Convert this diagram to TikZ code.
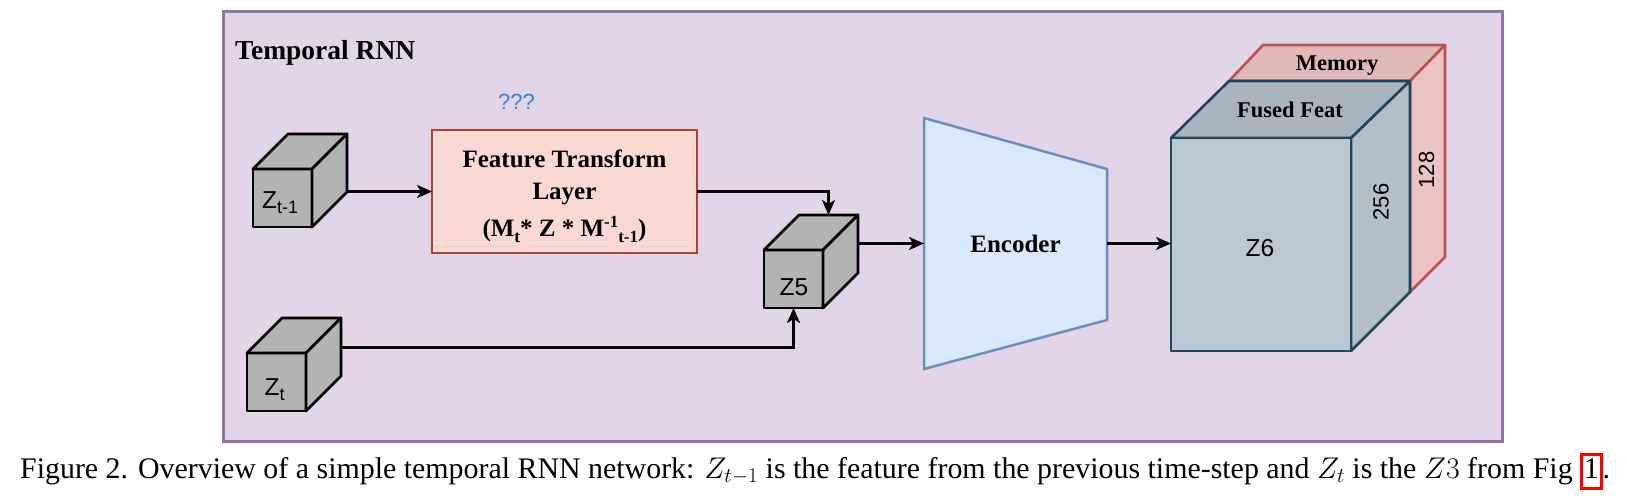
\documentclass[tikz,border=0pt]{standalone}
\usepackage{fix-cm}
\usepackage{fontspec}
\setmainfont{Liberation Serif}
\newfontfamily\lsans{Liberation Sans}
\usetikzlibrary{arrows.meta,calc}
\definecolor{framefill}{HTML}{E1D5E7}
\definecolor{framedraw}{HTML}{9673A6}
\definecolor{featfill}{HTML}{FAD9D5}
\definecolor{featdraw}{HTML}{AE4132}
\definecolor{encfill}{HTML}{DAE8FC}
\definecolor{encdraw}{HTML}{6C8EBF}
\definecolor{cubegray}{HTML}{B3B3B3}
\definecolor{zsixfront}{HTML}{BAC8D3}
\definecolor{zsixtop}{HTML}{A8B5BF}
\definecolor{zsixside}{HTML}{B2BFC9}
\definecolor{zsixdraw}{HTML}{23445D}
\definecolor{memtop}{HTML}{E1B8B8}
\definecolor{memside}{HTML}{EBC3C3}
\definecolor{memdraw}{HTML}{B85450}
\definecolor{qblue}{HTML}{3C82D3}
\tikzset{
  arr/.style={draw=black, line width=2.2pt, -{Stealth[length=15pt,width=13pt,inset=4pt]}},
  cubeline/.style={draw=black, line width=2.8pt, line join=round, fill=cubegray},
  cubefront/.style={cubeline, inner sep=0pt, outer sep=0pt},
  cubelabel/.style={inner sep=0pt, font=\lsans\fontsize{24.5}{24.5}\selectfont},
  bigline/.style={draw=zsixdraw, line width=2.6pt, line join=round},
  memline/.style={draw=memdraw, line width=2.6pt, line join=round},
  boldtxt/.style={inner sep=0pt, font=\bfseries\fontsize{22.5}{22.5}\selectfont},
  sidetxt/.style={inner sep=0pt, rotate=90, font=\lsans\fontsize{22}{22}\selectfont},
}
\newcommand{\gcube}[3]{%
  \node[cubefront, minimum width=59pt, minimum height=58pt, anchor=north west] (#1f) at (#2,#3) {};
  \draw[cubeline] (#1f.north west) -- ++(35,-35) -- ++(59,0) -- (#1f.north east) -- cycle;
  \draw[cubeline] (#1f.north east) -- ++(35,-35) -- ++(0,58) -- (#1f.south east) -- cycle;
  \node[minimum width=94pt, minimum height=93pt, anchor=south west, inner sep=0pt, outer sep=0pt] (#1) at (#1f.south west) {};
}
\newcommand{\subsc}[1]{\raisebox{-6pt}{\fontsize{17}{17}\selectfont #1}}
\newcommand{\supsc}[1]{\raisebox{9pt}{\fontsize{17}{17}\selectfont #1}}
\newcommand{\cubesub}[1]{\raisebox{-5pt}{\fontsize{18}{18}\selectfont #1}}
\begin{document}
\begin{tikzpicture}[x=1pt,y=-1pt]
\useasboundingbox (0,0) rectangle (1627,501);
% frame
\node[draw=framedraw, fill=framefill, line width=3pt, minimum width=1279pt, minimum height=430pt, inner sep=0pt, outer sep=0pt] (frame) at (862.5,226) {};
\node[anchor=base west, inner sep=0pt, font=\bfseries\fontsize{27.5}{27.5}\selectfont] (title) at (235,59) {Temporal RNN};
\node[inner sep=0pt, text=qblue, font=\lsans\fontsize{22}{22}\selectfont] (qq) at (516.5,102) {???};
% cubes
\gcube{zto}{253}{169}
\node[cubelabel, anchor=base west] (ztolab) at (262,208.3) {Z\cubesub{t-1}};
\gcube{zt}{247}{353}
\node[cubelabel, anchor=base west] (ztlab) at (264.5,395) {Z\cubesub{t}};
\gcube{zf}{764}{250}
\node[cubelabel, anchor=base] (zflab) at (794,295) {Z5};
% feature transform layer
\node[draw=featdraw, fill=featfill, line width=2.5pt, minimum width=265pt, minimum height=123pt, inner sep=0pt, outer sep=0pt] (ftl) at (564.5,191.5) {};
\node[anchor=north, inner sep=0pt, align=center, font=\bfseries\fontsize{25}{32}\selectfont] (ftltxt) at (564.5,149.5)
  {Feature Transform\\Layer\\[5pt](M\subsc{t}* Z * M\supsc{-1}\subsc{t-1})};
% encoder
\draw[draw=encdraw, fill=encfill, line width=2.5pt, line join=miter] (924,118) -- (1107,169) -- (1107,320) -- (924,369) -- cycle;
\node[inner sep=0pt, outer sep=0pt, minimum width=183pt, minimum height=251pt, font=\bfseries\fontsize{25}{25}\selectfont] (enc) at (1015.5,243.5) {Encoder};
% memory (behind)
\filldraw[memline, fill=memtop] (1229,81) -- (1263,45) -- (1445,45) -- (1410,81) -- cycle;
\filldraw[memline, fill=memside] (1410,81) -- (1445,45) -- (1445,257) -- (1410,292) -- cycle;
% Z6 cube
\filldraw[bigline, fill=zsixtop] (1171,138) -- (1229,81) -- (1410,81) -- (1351,138) -- cycle;
\filldraw[bigline, fill=zsixside] (1351,138) -- (1410,81) -- (1410,292) -- (1351,351) -- cycle;
\node[bigline, fill=zsixfront, minimum width=180pt, minimum height=213pt, inner sep=0pt, outer sep=0pt] (zsf) at (1261,244.5) {};
\node[inner sep=0pt, anchor=base, font=\lsans\fontsize{24.5}{24.5}\selectfont] (zslab) at (1260,256.5) {Z6};
\node[boldtxt, anchor=base] (fused) at (1290,117) {Fused Feat};
\node[boldtxt, anchor=base] (mem) at (1337,70.5) {Memory};
\node[sidetxt] (dimA) at (1381,202) {256};
\node[sidetxt] (dimB) at (1426.5,170) {128};
% connectors
\draw[arr] (zto.east |- ftl.west) -- (ftl.west);
\draw[arr] (ftl.east) -| ([xshift=17.5pt]zf.north);
\draw[arr] ([yshift=17pt]zt.east) -| (zff.south);
\draw[arr] (zf.east |- enc.west) -- (enc.west);
\draw[arr] (enc.east) -- (enc.east -| zsf.west);
% caption
\node[anchor=base west, inner sep=0pt, font=\fontsize{29.9}{29.9}\selectfont] (cap) at (20,478)
  {Figure 2. Overview of a simple temporal RNN network: $Z_{t-1}$ is the feature from the previous time-step and $Z_t$ is the $Z3$ from Fig {\setlength{\fboxsep}{1pt}\setlength{\fboxrule}{2.7pt}\color{red}\fbox{\color{black}\rule[-8pt]{0pt}{29pt}1}}.};
\end{tikzpicture}
\end{document}
